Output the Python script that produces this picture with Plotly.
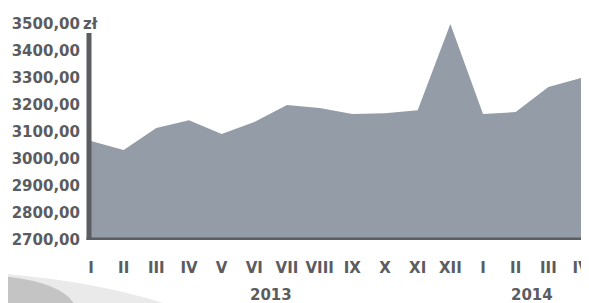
import plotly.graph_objects as go

months = ["I", "II", "III", "IV", "V", "VI", "VII", "VIII", "IX", "X", "XI", "XII",
          "I", "II", "III", "IV"]
values = [3067, 3033, 3115, 3144, 3093, 3137, 3200, 3189, 3167, 3170, 3181, 3500,
          3167, 3174, 3267, 3300]
ytick_vals = [2700, 2800, 2900, 3000, 3100, 3200, 3300, 3400, 3500]
ytick_text = ["2700,00", "2800,00", "2900,00", "3000,00", "3100,00", "3200,00",
              "3300,00", "3400,00", "3500,00"]
years = [("2013", 5.5), ("2014", 13.5)]

AX = "#5b5d61"
TXT = "#5b5c60"
FILL = "#939ca7"
FONT = "DejaVu Sans"

xs = list(range(len(values)))

fig = go.Figure()
fig.add_trace(go.Scatter(
    x=xs, y=values, mode="lines", fill="tozeroy",
    line=dict(color=FILL, width=0), fillcolor=FILL, hoverinfo="skip",
    showlegend=False,
))

# page body has an 8px margin, so the figure is shrunk/offset to compensate
fig.update_layout(
    width=581, height=295,
    margin=dict(l=81, r=6, t=12, b=63),
    paper_bgcolor="white", plot_bgcolor="white",
    xaxis=dict(
        range=[-0.06, 15.06], tickmode="array", tickvals=xs, ticktext=months,
        showgrid=False, zeroline=False, showline=False, ticks="",
        tickfont=dict(family=FONT, size=15, color=TXT, weight="bold"),
        ticklabelstandoff=17, automargin=False, ticklabeloverflow="allow",
    ),
    yaxis=dict(
        range=[2700, 3515], tickmode="array", tickvals=ytick_vals, ticktext=ytick_text,
        showgrid=False, zeroline=False, showline=False, ticks="",
        tickfont=dict(family=FONT, size=15, color=TXT, weight="bold"),
        ticklabelstandoff=8, automargin=False, ticklabeloverflow="allow",
    ),
    font=dict(family=FONT),
)

# axis lines
fig.add_shape(type="line", xref="paper", yref="y", x0=0, x1=0, y0=2690, y1=3467,
              line=dict(color=AX, width=5))
fig.add_shape(type="line", xref="paper", yref="y", x0=-0.005, x1=1.005, y0=2700, y1=2700,
              line=dict(color=AX, width=5))

# currency unit
fig.add_annotation(x=0, xref="paper", y=3500, yref="y", text="zł", showarrow=False,
                   xanchor="left", xshift=-8,
                   font=dict(family=FONT, size=15, color=TXT, weight="bold"))

# year labels
for yr, pos in years:
    fig.add_annotation(x=pos, xref="x", y=-0.25, yref="paper", text=yr, showarrow=False,
                       yanchor="middle",
                       font=dict(family=FONT, size=15, color=TXT, weight="bold"))

# decorative swoosh (bottom-left)
fig.add_shape(type="path", xref="paper", yref="paper", layer="below",
              path="M -0.2,-0.15 Q 0.0,-0.18 0.155,-0.29 L -0.2,-0.29 Z",
              fillcolor="#eaeaea", line=dict(width=0))
fig.add_shape(type="path", xref="paper", yref="paper", layer="below",
              path="M -0.2,-0.16 Q -0.06,-0.18 -0.03,-0.29 L -0.2,-0.29 Z",
              fillcolor="#c4c4c4", line=dict(width=0))

fig.write_html("out.html")
